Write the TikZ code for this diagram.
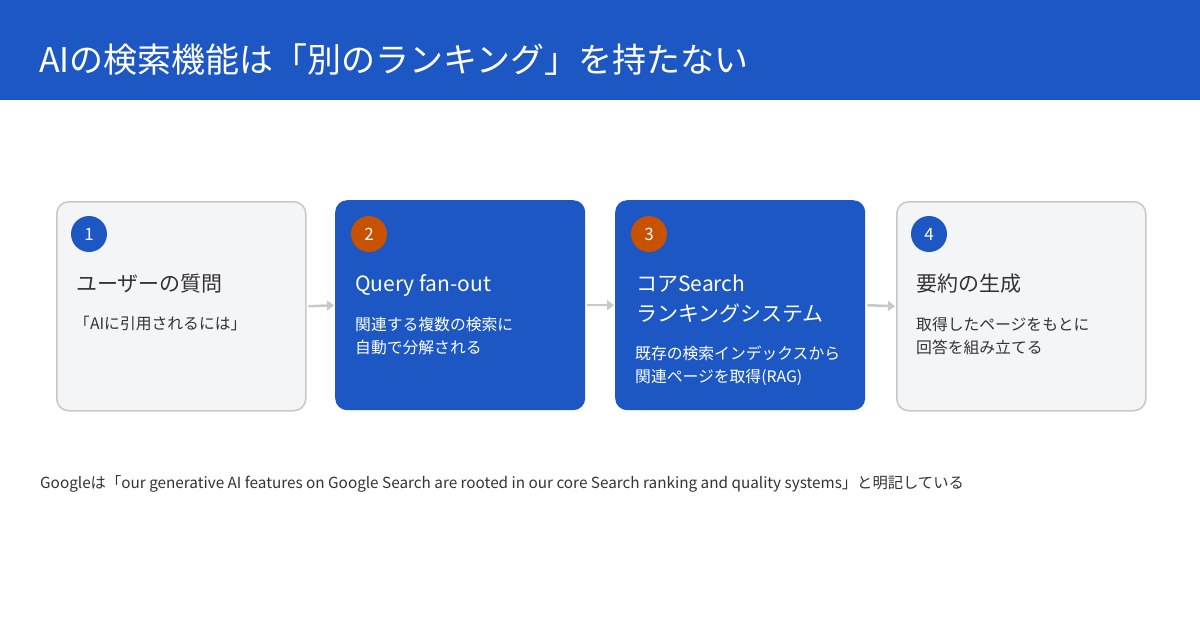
\documentclass[tikz,border=0pt]{standalone}
\usepackage{fontspec}
\setmainfont{Noto Sans CJK JP}
\usetikzlibrary{arrows.meta}
\definecolor{hdrblue}{HTML}{1C57C4}
\definecolor{orng}{HTML}{C85200}
\definecolor{lightbg}{HTML}{F4F5F7}
\definecolor{bordergray}{HTML}{C8C8C8}
\definecolor{txtdark}{HTML}{333333}
\definecolor{arrgray}{HTML}{C8C8C8}
\tikzset{
  lightbox/.style={draw=bordergray,line width=1.5pt,fill=lightbg,rounded corners=12pt,minimum width=249pt,minimum height=209pt,anchor=north west,inner sep=0pt},
  bluebox/.style={fill=hdrblue,rounded corners=12pt,minimum width=250pt,minimum height=210pt,anchor=north west,inner sep=0pt},
  numcirc/.style={circle,minimum size=36pt,inner sep=0pt,text=white,font=\fontsize{17}{17}\selectfont},
  btitle/.style={anchor=base west,inner sep=0pt,font=\fontsize{21}{21}\selectfont},
  bsub/.style={anchor=base west,inner sep=0pt,font=\fontsize{15.8}{15.8}\selectfont},
  flow/.style={draw=arrgray,line width=2.5pt,-{Triangle[length=7pt,width=10pt]}}
}
\begin{document}
\begin{tikzpicture}[x=1pt,y=-1pt]
\useasboundingbox (0,0) rectangle (1200,630);
\fill[white] (0,0) rectangle (1200,630);
\fill[hdrblue] (0,0) rectangle (1200,100);
\node[anchor=base west,inner sep=0pt,text=white,font=\fontsize{34}{34}\selectfont] (title) at (39,72) {AIの検索機能は「別のランキング」を持たない};

% boxes
\node[lightbox] (b1) at (56,201) {};
\node[bluebox] (b2) at (335,200) {};
\node[bluebox] (b3) at (615,200) {};
\node[lightbox] (b4) at (896,201) {};

% number circles
\node[numcirc,fill=hdrblue] (c1) at (89,234) {1};
\node[numcirc,fill=orng] (c2) at (369,234) {2};
\node[numcirc,fill=orng] (c3) at (649,234) {3};
\node[numcirc,fill=hdrblue] (c4) at (929,234) {4};

% box texts
\node[btitle,text=txtdark] (t1) at (76,291) {ユーザーの質問};
\node[bsub,text=txtdark] (s1) at (74,329) {「AIに引用されるには」};

\node[btitle,text=white] (t2) at (355,291) {Query fan-out};
\node[bsub,text=white] (s2a) at (355,330) {関連する複数の検索に};
\node[bsub,text=white] (s2b) at (355,353) {自動で分解される};

\node[btitle,text=white] (t3a) at (636,291) {コアSearch};
\node[btitle,text=white] (t3b) at (636,321) {ランキングシステム};
\node[bsub,text=white] (s3a) at (635,359) {既存の検索インデックスから};
\node[bsub,text=white] (s3b) at (635,382) {関連ページを取得(RAG)};

\node[btitle,text=txtdark] (t4) at (916,291) {要約の生成};
\node[bsub,text=txtdark] (s4a) at (916,330) {取得したページをもとに};
\node[bsub,text=txtdark] (s4b) at (916,353) {回答を組み立てる};

% arrows
\draw[flow] ([xshift=2pt]b1.east) -- ([xshift=-1pt]b2.west);
\draw[flow] ([xshift=2pt]b2.east) -- ([xshift=-1pt]b3.west);
\draw[flow] ([xshift=2pt]b3.east) -- ([xshift=-1pt]b4.west);

% footer
\node[anchor=base west,inner sep=0pt,text=txtdark,font=\fontsize{15.3}{15.3}\selectfont] (foot) at (40,488) {Googleは「our generative AI features on Google Search are rooted in our core Search ranking and quality systems」と明記している};
\end{tikzpicture}
\end{document}
